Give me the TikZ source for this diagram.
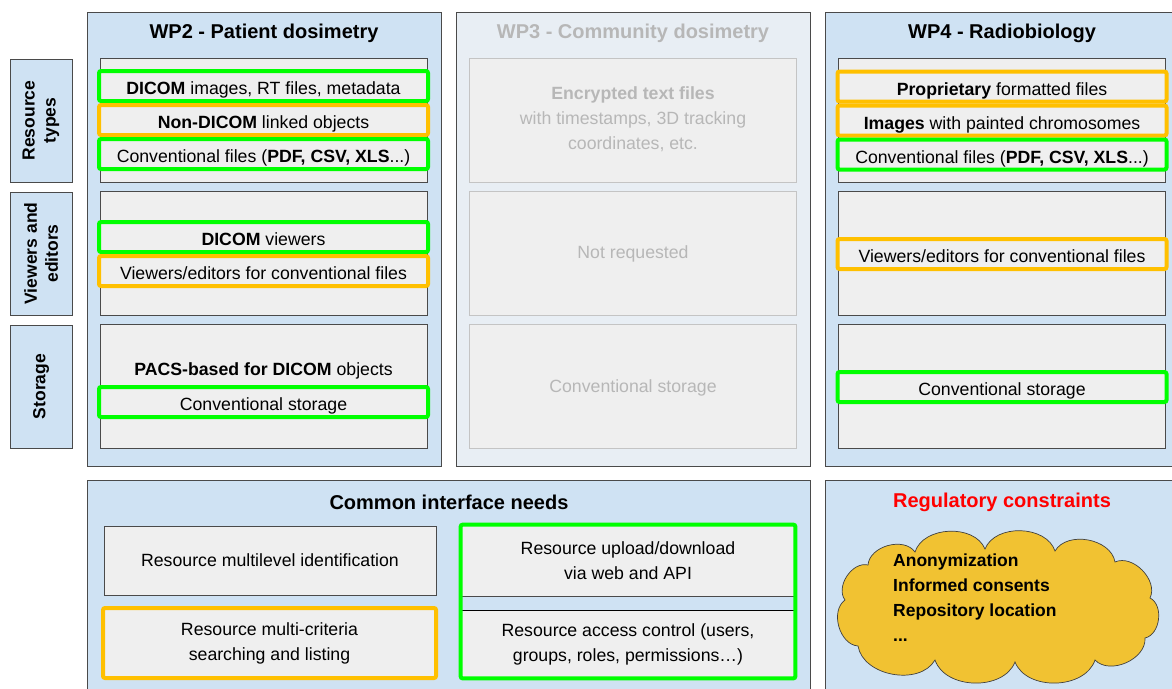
\documentclass[tikz,border=0pt]{standalone}
\usepackage{fontspec}
\setmainfont{Liberation Sans}
\usetikzlibrary{positioning, fit}
\definecolor{panelblue}{HTML}{CFE2F3}
\definecolor{panelfade}{HTML}{E8EEF4}
\definecolor{boxgrey}{HTML}{EFEFEF}
\definecolor{hlgreen}{HTML}{00FF00}
\definecolor{hlorange}{HTML}{FFC000}
\definecolor{fadetext}{HTML}{B7B7B7}
\definecolor{fadeedge}{HTML}{C4C4C4}
\definecolor{edgegrey}{HTML}{4A4A4A}
\definecolor{cloudyellow}{HTML}{F1C232}

\begin{document}
\begin{tikzpicture}[
    x=1pt, y=-1pt,
    bodyfont/.style={font=\fontsize{17.7}{25}\selectfont},
    title/.style={font=\fontsize{20}{24}\selectfont\bfseries},
    panel/.style={draw=edgegrey, fill=panelblue, line width=0.8pt,
                  anchor=north west},
    fadepanel/.style={panel, fill=panelfade},
    sidelabel/.style={draw=edgegrey, fill=panelblue, line width=0.8pt,
                      rotate=90, minimum width=123pt, minimum height=62pt,
                      align=center, font=\fontsize{17.5}{21}\selectfont\bfseries},
    group/.style={draw=edgegrey, fill=boxgrey, line width=0.7pt,
                  minimum width=327pt, minimum height=124pt},
    fadegroup/.style={group, draw=fadeedge},
    frame/.style={bodyfont, fill=boxgrey, line width=4pt, rounded corners=2pt,
                  inner sep=0pt},
    item/.style={frame, minimum width=329pt, minimum height=30pt,
                 text height=17pt, text depth=0pt},
    okitem/.style={item, draw=hlgreen},
    partitem/.style={item, draw=hlorange},
    plainbox/.style={bodyfont, draw=edgegrey, fill=boxgrey, line width=0.7pt,
                     align=center},
    puff/.style={bend left=70}
  ]
  \useasboundingbox (0,0) rectangle (1172,688);

  \node[sidelabel] (types) at (41,120.5) {Resource\\types};
  \node[sidelabel] (viewers) at (41,253.5) {Viewers and\\editors};
  \node[sidelabel] (storage) at (41,386.5) {Storage};

  \node[panel, minimum width=354pt, minimum height=454pt] (wp2) at (87,12) {};
  \node[fadepanel, minimum width=354pt, minimum height=454pt] (wp3) at (456,12) {};
  \node[panel, minimum width=362pt, minimum height=454pt] (wp4) at (825,12) {};
  \node[panel, minimum width=723pt, minimum height=230pt] (common) at (87,480) {};
  \node[panel, minimum width=362pt, minimum height=230pt] (reg) at (825,480) {};

  \node[title] (wp2title) at (264,33) {WP2 - Patient dosimetry};
  \node[title, text=fadetext] (wp3title) at (633,33) {WP3 - Community dosimetry};
  \node[title] (wp4title) at (1002,33) {WP4 - Radiobiology};
  \node[title] (commontitle) at (449,502) {Common interface needs};
  \node[title, text=red] (regtitle) at (1002,502) {Regulatory constraints};

  \node[group] (wp2types) at (263.5,120) {};
  \node[group] (wp2view) at (263.5,253.5) {};
  \node[group] (wp2store) at (263.5,386.5) {};
  \node[fadegroup] (wp3types) at (633,120) {};
  \node[fadegroup] (wp3view) at (633,253.5) {};
  \node[fadegroup] (wp3store) at (633,386.5) {};
  \node[group] (wp4types) at (1002,120) {};
  \node[group] (wp4view) at (1002,253.5) {};
  \node[group] (wp4store) at (1002,386.5) {};

  \node[okitem] (dicomimg) at (263.5,86) {\textbf{DICOM} images, RT files, metadata};
  \node[partitem, below=0pt of dicomimg] (nondicom) {\textbf{Non-DICOM} linked objects};
  \node[okitem, below=0pt of nondicom] (convfiles)
    {Conventional files (\textbf{PDF, CSV, XLS}...)};
  \node[okitem] (dicomview) at (263.5,237) {\textbf{DICOM} viewers};
  \node[partitem, below=0pt of dicomview] (convview)
    {Viewers/editors for conventional files};
  \node[bodyfont] (pacs) at (263.5,371) {\textbf{PACS-based for DICOM} objects};
  \node[okitem] (convstore) at (263.5,402) {Conventional storage};

  \node[bodyfont, text=fadetext, align=center] (encrypted) at (633,119)
    {\textbf{Encrypted text files}\\with timestamps, 3D tracking\\coordinates, etc.};
  \node[bodyfont, text=fadetext] (notreq) at (633,254) {Not requested};
  \node[bodyfont, text=fadetext] (wp3conv) at (633,388) {Conventional storage};

  \node[partitem] (propfiles) at (1002,86.5) {\textbf{Proprietary} formatted files};
  \node[partitem, below=0pt of propfiles] (chromo)
    {\textbf{Images} with painted chromosomes};
  \node[okitem, below=0pt of chromo] (wp4files)
    {Conventional files (\textbf{PDF, CSV, XLS}...)};
  \node[partitem] (wp4edit) at (1002,254) {Viewers/editors for conventional files};
  \node[okitem] (wp4conv) at (1002,387) {Conventional storage};

  \node[plainbox, minimum width=332pt, minimum height=69pt] (multilevel)
    at (270,560.5) {Resource multilevel identification};
  \node[frame, draw=hlorange, minimum width=333pt, minimum height=70pt,
        align=center] (search)
    at (269.5,643) {Resource multi-criteria\\searching and listing};
  \node[plainbox, minimum width=334pt, minimum height=71pt] (upload)
    at (628,560.5) {Resource upload/download\\via web and API};
  \node[plainbox, draw=black, minimum width=334pt, minimum height=68pt] (access)
    at (628,644) {Resource access control (users,\\groups, roles, permissions\dots)};
  \node[draw=hlgreen, line width=4pt, rounded corners=2pt, inner sep=0pt,
        fit=(upload)(access)] (apiframe) {};

  % cloud
  \draw[draw=black!75, fill=cloudyellow, line width=0.7pt]
    (868,565) to[puff] (915,552) to[puff] (985,549) to[puff] (1055,551)
    to[puff] (1115,562) to[puff] (1150,598) to[puff] (1145,638)
    to[puff] (1095,660) to[puff] (1015,662) to[puff] (935,660)
    to[puff] (858,646) to[puff] (845,600) to[puff] cycle;
  \node[anchor=north west, align=left, inner sep=0pt,
        font=\fontsize{17.5}{25}\selectfont\bfseries] (regitems) at (893,554)
    {Anonymization\\Informed consents\\Repository location\\...};
\end{tikzpicture}
\end{document}
